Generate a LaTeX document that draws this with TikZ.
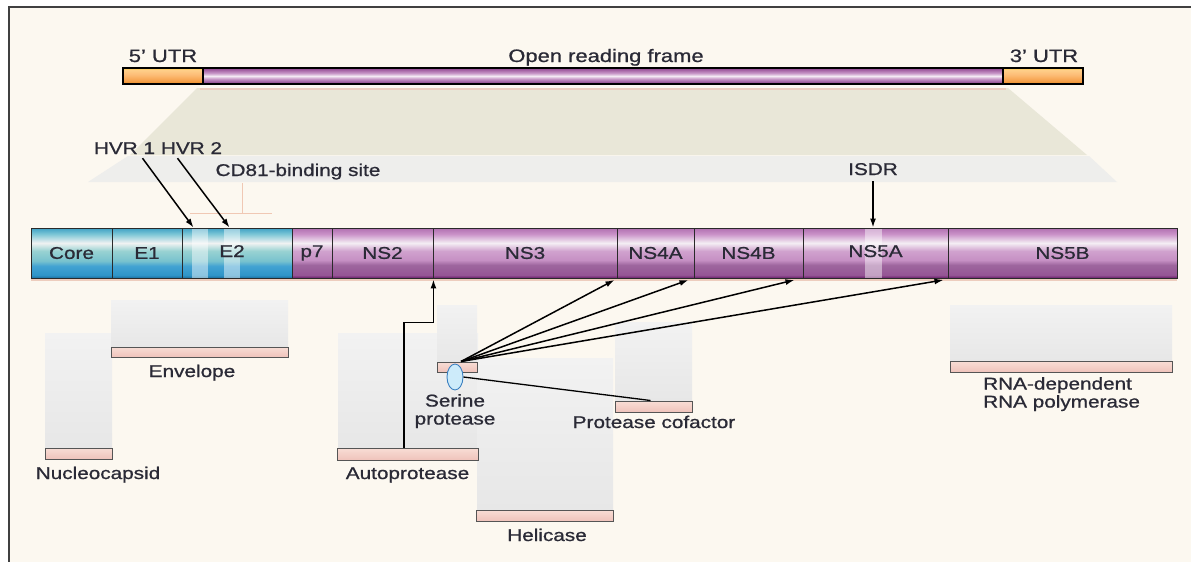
\documentclass[tikz,border=0pt]{standalone}
\usepackage{fontspec}
\setmainfont{Liberation Sans}[FakeStretch=1.22,FakeBold=0.9]
\usetikzlibrary{arrows.meta,shapes.geometric}

% palette
\definecolor{cream}{HTML}{FCF8F0}
\definecolor{framec}{HTML}{404040}
\definecolor{beige}{HTML}{E9E7D8}
\definecolor{bandc}{HTML}{EEEEEC}
\definecolor{greytop}{HTML}{F2F2F2}
\definecolor{greybot}{HTML}{E7E7E7}
\definecolor{pinktop}{HTML}{F8DDD5}
\definecolor{pinkbot}{HTML}{EFC3BB}
\definecolor{pbarline}{HTML}{555555}
\definecolor{segline}{HTML}{2A2A2A}
\definecolor{txt}{HTML}{2A2A36}
\definecolor{shadowc}{HTML}{EDCDBE}
\definecolor{cdline}{HTML}{F0C8B4}
\definecolor{ovalfill}{HTML}{CDEBFA}
\definecolor{ovalline}{HTML}{3A7FC0}

% structural proteins (blue) stripes, bottom to top
\definecolor{b0}{HTML}{1C70A0}
\definecolor{b1}{HTML}{2F95C8}
\definecolor{b2}{HTML}{42A2D2}
\definecolor{b3}{HTML}{78C2CE}
\definecolor{b4}{HTML}{98D2D2}
\definecolor{b5}{HTML}{F0F2F2}
\definecolor{b6}{HTML}{7CC6D6}
\definecolor{b7}{HTML}{3EA0C4}
% non-structural proteins (purple) stripes, bottom to top
\definecolor{p0}{HTML}{6A1E6A}
\definecolor{p1}{HTML}{955595}
\definecolor{p2}{HTML}{9E669E}
\definecolor{p3}{HTML}{C690C4}
\definecolor{p4}{HTML}{D0A2CE}
\definecolor{p5}{HTML}{F4EEF4}
\definecolor{p6}{HTML}{CA92C8}
\definecolor{p7}{HTML}{B070B0}
% genome bar
\definecolor{g0}{HTML}{6A1E6A}
\definecolor{g1}{HTML}{9A5A9A}
\definecolor{g2}{HTML}{C898C8}
\definecolor{g3}{HTML}{F4EAF4}
\definecolor{g4}{HTML}{A868A8}
\definecolor{g5}{HTML}{8E468E}
\definecolor{o0}{HTML}{E88A20}
\definecolor{o1}{HTML}{F5A04A}
\definecolor{o2}{HTML}{FDBE78}
\definecolor{o3}{HTML}{FFD08A}
\definecolor{o4}{HTML}{FFC830}

\pgfdeclareverticalshading{bluebar}{100bp}{color(0bp)=(b0); color(25bp)=(b0);
  color(28bp)=(b1); color(37bp)=(b2); color(42bp)=(b3); color(52bp)=(b4);
  color(60bp)=(b5); color(69bp)=(b6); color(75bp)=(b7); color(100bp)=(b7)}
\pgfdeclareverticalshading{purplebar}{100bp}{color(0bp)=(p0); color(25bp)=(p0);
  color(28bp)=(p1); color(38bp)=(p2); color(43bp)=(p3); color(52bp)=(p4);
  color(60bp)=(p5); color(69bp)=(p6); color(75bp)=(p7); color(100bp)=(p7)}
\pgfdeclareverticalshading{orfbar}{100bp}{color(0bp)=(g0); color(25bp)=(g0);
  color(31bp)=(g1); color(41bp)=(g2); color(50bp)=(g3); color(59bp)=(g2);
  color(68bp)=(g4); color(75bp)=(g5); color(100bp)=(g5)}
\pgfdeclareverticalshading{utrbar}{100bp}{color(0bp)=(o0); color(25bp)=(o0);
  color(35bp)=(o1); color(55bp)=(o2); color(70bp)=(o3); color(75bp)=(o4);
  color(100bp)=(o4)}

\begin{document}
\begin{tikzpicture}[x=1pt,y=-1pt,
  every node/.append style={font=\fontsize{17}{18}\selectfont, text=txt},
  lbl/.style={inner sep=0pt, anchor=base},
  biglbl/.style={lbl, font=\fontsize{18}{19}\selectfont},
  seg/.style={draw=segline, line width=0.9pt, minimum height=50pt, inner sep=0pt, shading=#1},
  genome/.style={draw=black, line width=1.1pt, minimum height=16pt, inner sep=0pt, shading=#1},
  greybox/.style={top color=greytop, bottom color=greybot},
  pbar/.style={draw=pbarline, line width=1pt, top color=pinktop, bottom color=pinkbot,
    inner sep=0pt, minimum height=#1},
  arr/.style={line width=1.5pt, -{Latex[length=9pt,width=6pt]}},
  hilite/.style={fill=white, opacity=0.45}
]
\useasboundingbox (0,0) rectangle (1191,562);

% page and frame
\fill[white] (0,0) rectangle (1191,562);
\fill[cream] (9,7) rectangle (1191,562);
\draw[framec, line width=2pt] (9,562) -- (9,7) -- (1191,7);

% zoom-out fan from the genome to the polyprotein
\fill[beige] (197,88) -- (1008,88) -- (1087,155) -- (130,155) -- cycle;
\fill[bandc] (128,156) -- (1089,156) -- (1117,182) -- (88,182) -- cycle;
\draw[shadowc, line width=1.2pt] (200,89) -- (1006,89);

% genome
\node[genome=utrbar, minimum width=80pt] (utr5) at (163,76) {};
\node[genome=orfbar, minimum width=800pt] (orf) at (603,76) {};
\node[genome=utrbar, minimum width=80pt] (utr3) at (1043,76) {};
\node[biglbl] (utr5lbl) at (163,62) {5’ UTR};
\node[biglbl] (orflbl) at (606,62) {Open reading frame};
\node[biglbl] (utr3lbl) at (1044,62) {3’ UTR};

% CD81-binding site marker
\draw[cdline, line width=1pt] (242,183) -- (242,213);
\draw[cdline, line width=1pt] (190,213) -- (272,213);

% polyprotein
\draw[shadowc, line width=1.5pt] (31,280) -- (1177,280);
\node[seg=bluebar, minimum width=81pt] (core) at (71.5,253) {Core};
\node[seg=bluebar, minimum width=70pt] (e1) at (147,253) {E1};
\node[seg=bluebar, minimum width=110pt, path picture={
    \fill[hilite] ([xshift=10pt]path picture bounding box.south west)
      rectangle ([xshift=26pt]path picture bounding box.north west);
    \fill[hilite] ([xshift=42pt]path picture bounding box.south west)
      rectangle ([xshift=58pt]path picture bounding box.north west);}] (e2) at (237,253) {};
\node[lbl] (e2lbl) at (232,257) {E2};
\node[seg=purplebar, minimum width=40pt] (p7) at (312,253) {p7};
\node[seg=purplebar, minimum width=101pt] (ns2) at (382.5,253) {NS2};
\node[seg=purplebar, minimum width=184pt] (ns3) at (525,253) {NS3};
\node[seg=purplebar, minimum width=77pt] (ns4a) at (655.5,253) {NS4A};
\node[seg=purplebar, minimum width=109pt] (ns4b) at (748.5,253) {NS4B};
\node[seg=purplebar, minimum width=145pt, path picture={
    \fill[hilite] ([xshift=62pt]path picture bounding box.south west)
      rectangle ([xshift=79pt]path picture bounding box.north west);}] (ns5a) at (875.5,253) {};
\node[lbl] (ns5albl) at (875.5,257) {NS5A};
\node[seg=purplebar, minimum width=229pt] (ns5b) at (1062.5,253) {NS5B};

% region labels above the polyprotein
\node[lbl] (hvr1) at (124.5,154) {HVR 1};
\node[lbl] (hvr2) at (191.5,154) {HVR 2};
\node[lbl] (cd81) at (298,176) {CD81-binding site};
\node[lbl] (isdr) at (873,175) {ISDR};
\coordinate (h1tip) at ([xshift=12pt]e2.north west);
\coordinate (h2tip) at ([xshift=48pt]e2.north west);
\draw[arr] ([xshift=18pt,yshift=-4pt]hvr1.south) -- (h1tip);
\draw[arr] ([xshift=-14pt,yshift=-4pt]hvr2.south) -- (h2tip);
\draw[arr] ([yshift=-6pt]isdr.south) -- (isdr.south |- ns5a.north);

% functional domains below the polyprotein
\fill[greybox] (45,333) rectangle (112,448);
\fill[greybox] (111,300) rectangle (288,347);
\fill[greybox] (338,333) rectangle (478,448);
\fill[greybox] (437,305) rectangle (477,362);
\fill[greybox] (477,358) rectangle (613,510);
\fill[greybox] (615,322) rectangle (692,401);
\fill[greybox] (950,305) rectangle (1172,361);

\node[pbar=11pt, minimum width=67pt] (ncbar) at (78.5,453.5) {};
\node[pbar=10pt, minimum width=177pt] (envbar) at (199.5,352) {};
\node[pbar=12pt, minimum width=141pt] (apbar) at (407.5,454) {};
\node[pbar=10pt, minimum width=40pt] (spbar) at (457,367) {};
\node[pbar=11pt, minimum width=137pt] (helbar) at (544.5,515.5) {};
\node[pbar=11pt, minimum width=77pt] (cofbar) at (653.5,406.5) {};
\node[pbar=11pt, minimum width=222pt] (rdrpbar) at (1061,366.5) {};

\node[lbl] (nclbl) at (98,479) {Nucleocapsid};
\node[lbl] (envlbl) at (192,377) {Envelope};
\node[lbl] (aplbl) at (407.5,479) {Autoprotease};
\node[inner sep=0pt, anchor=north, align=center] (splbl) at (455,394) {Serine\\protease};
\node[lbl] (hellbl) at (547,541) {Helicase};
\node[lbl] (coflbl) at (654,428) {Protease cofactor};
\node[inner sep=0pt, anchor=north west, align=left] (rdrplbl) at (983,377) {RNA-dependent\\RNA polymerase};

% NS2-NS3 autoprotease cleavage
\coordinate (apbend) at ([yshift=-44pt]ns2.south east);
\draw[arr] ([xshift=-3.5pt]apbar.north) |- (apbend) -- ([yshift=-1pt]ns2.south east);

% NS3 serine protease cleavages
\coordinate (sp) at ([xshift=4pt]spbar.north);
\draw[arr] (sp) -- ([xshift=-3pt,yshift=-1.5pt]ns3.south east);
\draw[arr] (sp) -- ([xshift=-6pt,yshift=-1.5pt]ns4a.south east);
\draw[arr] (sp) -- ([xshift=-9pt,yshift=-1.5pt]ns4b.south east);
\draw[arr] (sp) -- ([xshift=-5pt,yshift=-1.5pt]ns5a.south east);

% serine protease active site and its cofactor
\node[ellipse, draw=ovalline, line width=0.9pt, fill=ovalfill, minimum width=16pt,
  minimum height=26pt, inner sep=0pt] (serine) at (455,377) {};
\draw[line width=1.3pt] (serine.east) -- ([xshift=-3pt]cofbar.north);
\end{tikzpicture}
\end{document}
